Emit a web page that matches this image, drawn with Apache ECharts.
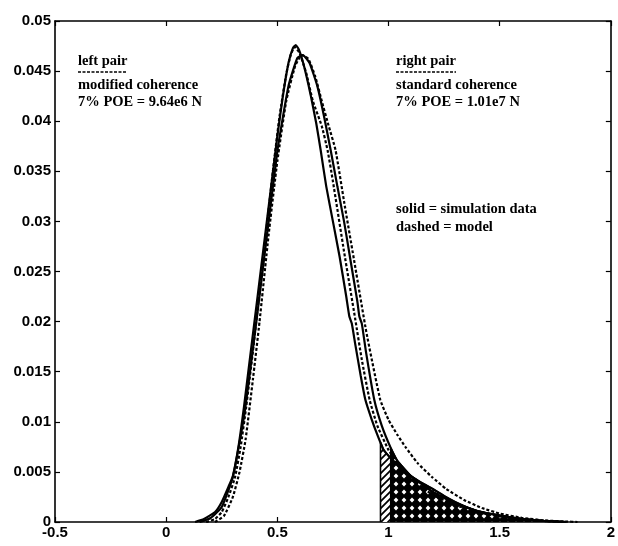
<!DOCTYPE html>
<html><head><meta charset="utf-8">
<script src="https://cdn.jsdelivr.net/npm/echarts@6/dist/echarts.min.js"></script>
<style>html,body{margin:0;padding:0;background:#fff}#c{width:618px;height:546px}</style>
</head><body><div id="c"></div>
<script>
// ---- data (x in normalized load, y in probability density) ----
const xTicks = [-0.5, 0, 0.5, 1, 1.5, 2];
const yTicks = [0, 0.005, 0.01, 0.015, 0.02, 0.025, 0.03, 0.035, 0.04, 0.045, 0.05];

// left pair: modified coherence, simulation (solid)
const modSimX = [0.13,0.17,0.22,0.25,0.28,0.30,0.325,0.35,0.375,0.40,0.425,0.45,0.475,0.50,0.525,0.55,0.57,0.583,0.598,0.62,0.65,0.675,0.695,0.72,0.75,0.78,0.81,0.824,0.835,0.85,0.875,0.896,0.925,0.95,0.978,1.0,1.05,1.1,1.15,1.2,1.25,1.3,1.35,1.4,1.45,1.5,1.55,1.6,1.7,1.8];
const modSimY = [0,0.0003,0.001,0.002,0.0035,0.0046,0.0075,0.0115,0.016,0.0205,0.025,0.0295,0.034,0.0385,0.0425,0.0458,0.0473,0.0476,0.0471,0.0455,0.0426,0.0398,0.0371,0.0335,0.030,0.0265,0.0225,0.0205,0.0198,0.0178,0.0146,0.0122,0.0102,0.0087,0.0072,0.0066,0.0055,0.0046,0.0039,0.0033,0.0026,0.0020,0.0015,0.0011,0.00085,0.00065,0.00045,0.0003,0.0001,0];
// left pair: modified coherence, model (dashed)
const modModX = [0.18,0.22,0.25,0.28,0.31,0.335,0.36,0.39,0.42,0.45,0.48,0.51,0.54,0.56,0.578,0.60,0.63,0.66,0.70,0.726,0.75,0.8,0.85,0.88,0.915,0.95,1.0,1.05,1.1,1.2,1.3,1.4,1.5,1.6,1.7,1.8];
const modModY = [0,0.0003,0.001,0.0025,0.0045,0.0075,0.0115,0.017,0.023,0.029,0.035,0.0405,0.0447,0.0466,0.0474,0.0468,0.0448,0.042,0.0395,0.0371,0.034,0.027,0.0203,0.0162,0.0122,0.0096,0.0072,0.0055,0.0043,0.0027,0.0017,0.0010,0.00055,0.00028,0.0001,0];
// right pair: standard coherence, simulation (solid)
const stdSimX = [0.15,0.2,0.25,0.3,0.35,0.4,0.45,0.5,0.55,0.59,0.615,0.645,0.68,0.71,0.74,0.77,0.8,0.83,0.86,0.869,0.88,0.9,0.936,0.97,1.01,1.04,1.1,1.2,1.3,1.4,1.5,1.6,1.7,1.8];
const stdSimY = [0,0.0004,0.0015,0.0045,0.0105,0.019,0.028,0.037,0.0435,0.0463,0.0466,0.0458,0.0435,0.0405,0.0371,0.0335,0.030,0.026,0.022,0.0205,0.0198,0.0168,0.0122,0.0096,0.0074,0.0061,0.0046,0.0030,0.0019,0.0011,0.00065,0.00032,0.00012,0];
// right pair: standard coherence, model (dashed)
const stdModX = [0.22,0.26,0.3,0.33,0.357,0.39,0.42,0.46,0.5,0.54,0.58,0.61,0.64,0.67,0.7,0.73,0.762,0.8,0.85,0.9,0.963,1.0,1.04,1.076,1.13,1.195,1.26,1.34,1.42,1.5,1.6,1.7,1.8,1.85];
const stdModY = [0,0.0006,0.0025,0.005,0.0082,0.0142,0.020,0.0285,0.036,0.042,0.0455,0.0466,0.0462,0.0445,0.042,0.0396,0.0371,0.032,0.0255,0.019,0.0122,0.0102,0.0087,0.0075,0.0059,0.0045,0.0033,0.0022,0.0014,0.00085,0.00042,0.00016,0.00005,0];

// 7% probability-of-exceedance thresholds (x1e7 N)
const poeLeft = 0.964;
const poeRight = 1.01;

// ---- helpers ----
const pairs = (xs, ys) => xs.map((x, i) => [x, ys[i]]);
function interp(xs, ys, x) {
  for (let i = 0; i < xs.length - 1; i++) {
    if (x >= xs[i] && x <= xs[i + 1]) {
      const t = (x - xs[i]) / (xs[i + 1] - xs[i]);
      return ys[i] + t * (ys[i + 1] - ys[i]);
    }
  }
  return 0;
}
function tail(xs, ys, x0) {
  const out = [[x0, 0], [x0, interp(xs, ys, x0)]];
  xs.forEach((x, i) => { if (x > x0) out.push([x, ys[i]]); });
  return out;
}
function diagPattern() {
  const c = document.createElement('canvas'); c.width = 7; c.height = 7;
  const g = c.getContext('2d');
  g.fillStyle = '#fff'; g.fillRect(0, 0, 7, 7);
  g.strokeStyle = '#000'; g.lineWidth = 1.8;
  g.beginPath();
  g.moveTo(-1, 8); g.lineTo(8, -1);
  g.moveTo(-4.5, 4.5); g.lineTo(4.5, -4.5);
  g.moveTo(2.5, 11.5); g.lineTo(11.5, 2.5);
  g.stroke();
  return c;
}
function crossPattern() {
  const c = document.createElement('canvas'); c.width = 8; c.height = 8;
  const g = c.getContext('2d');
  g.fillStyle = '#000'; g.fillRect(0, 0, 8, 8);
  g.fillStyle = '#fff';
  g.beginPath();
  g.moveTo(4, 1.6); g.lineTo(6.4, 4); g.lineTo(4, 6.4); g.lineTo(1.6, 4); g.closePath();
  g.fill();
  return c;
}
const TXT_FONT = 'bold 14.5px "Liberation Serif"';
function textW(s) {
  const g = document.createElement('canvas').getContext('2d');
  g.font = TXT_FONT; return g.measureText(s).width;
}

const chart = echarts.init(document.getElementById('c'), null, { renderer: 'canvas' });
const axisFont = { fontFamily: 'Liberation Sans', fontSize: 15, fontWeight: 'bold', color: '#000' };
const lineCommon = { type: 'line', symbol: 'none', smooth: 0.15, z: 3 };
const txt = (l, t, s) => ({ type: 'text', left: l, top: t, z: 10,
  style: { text: s, font: TXT_FONT, fill: '#000' } });
const uline = (x, s, y) => ({ type: 'line', z: 10,
  shape: { x1: x, y1: y, x2: x + textW(s), y2: y }, style: { stroke: '#000', lineWidth: 1.3, lineDash: [3, 1.5] } });
const axLine = { onZero: false, show: true, lineStyle: { color: '#000', width: 1.6 } };
const axTick = { show: true, inside: true, length: 5, lineStyle: { color: '#000', width: 1.2 } };

chart.setOption({
  animation: false,
  backgroundColor: '#fff',
  grid: { left: 55, right: 2, top: 21, bottom: 24, containLabel: false },
  xAxis: [
    { type: 'value', min: -0.5, max: 2, interval: 0.5, position: 'bottom',
      axisLine: axLine, axisTick: axTick,
      axisLabel: Object.assign({ margin: 3, formatter: v => String(v) }, axisFont),
      splitLine: { show: false } },
    { type: 'value', min: -0.5, max: 2, interval: 0.5, position: 'top',
      axisLine: axLine, axisTick: axTick,
      axisLabel: { show: false }, splitLine: { show: false } }
  ],
  yAxis: [
    { type: 'value', min: 0, max: 0.05, interval: 0.005, position: 'left',
      axisLine: axLine, axisTick: axTick,
      axisLabel: Object.assign({ margin: 4, formatter: v => String(+v.toFixed(3)) }, axisFont),
      splitLine: { show: false } },
    { type: 'value', min: 0, max: 0.05, interval: 0.005, position: 'right',
      axisLine: axLine, axisTick: axTick,
      axisLabel: { show: false }, splitLine: { show: false } }
  ],
  series: [
    Object.assign({}, lineCommon, { name: 'hatchLeft', data: tail(modSimX, modSimY, poeLeft), smooth: false,
      lineStyle: { color: '#000', width: 1.6 }, areaStyle: { color: { image: diagPattern(), repeat: 'repeat' }, opacity: 1 }, z: 1 }),
    Object.assign({}, lineCommon, { name: 'hatchRight', data: tail(stdSimX, stdSimY, poeRight), smooth: false,
      lineStyle: { color: '#000', width: 1.6 }, areaStyle: { color: { image: crossPattern(), repeat: 'repeat' }, opacity: 1 }, z: 2 }),
    Object.assign({}, lineCommon, { name: 'modSim', data: pairs(modSimX, modSimY), lineStyle: { color: '#000', width: 2.2, type: 'solid' } }),
    Object.assign({}, lineCommon, { name: 'modMod', data: pairs(modModX, modModY), lineStyle: { color: '#000', width: 2.2, type: [3, 2] } }),
    Object.assign({}, lineCommon, { name: 'stdSim', data: pairs(stdSimX, stdSimY), lineStyle: { color: '#000', width: 2.2, type: 'solid' } }),
    Object.assign({}, lineCommon, { name: 'stdMod', data: pairs(stdModX, stdModY), lineStyle: { color: '#000', width: 2.2, type: [3, 2] } })
  ],
  graphic: [
    txt(78, 54, 'left pair'), uline(78, 'left pair', 72),
    txt(78, 78, 'modified coherence'),
    txt(78, 95, '7% POE = 9.64e6 N'),
    txt(396, 54, 'right pair'), uline(396, 'right pair', 72),
    txt(396, 78, 'standard coherence'),
    txt(396, 95, '7% POE = 1.01e7 N'),
    txt(396, 202, 'solid = simulation data'),
    txt(396, 220, 'dashed = model')
  ]
});
</script></body></html>
